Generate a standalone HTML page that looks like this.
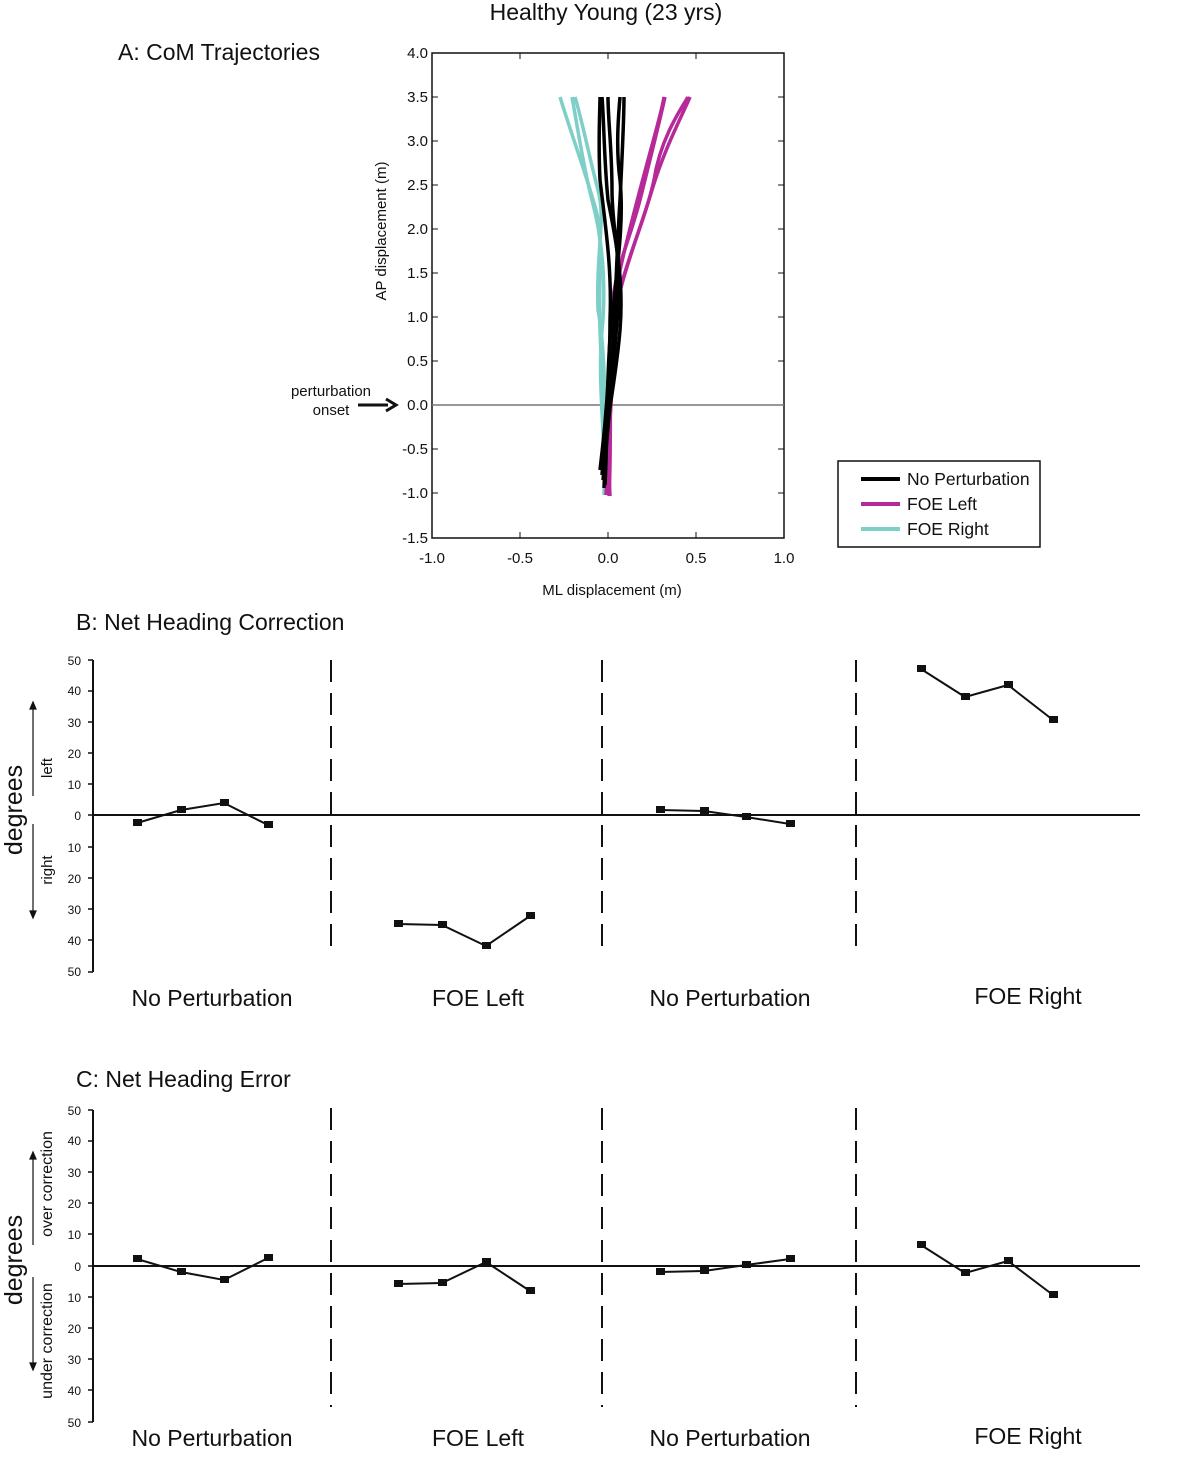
<!DOCTYPE html>
<html><head><style>body{margin:0;background:#fff}svg{display:block}text{font-family:"Liberation Sans",Arial,sans-serif;fill:#111}</style></head>
<body>
<svg width="1194" height="1466" viewBox="0 0 1194 1466" xmlns="http://www.w3.org/2000/svg">
<text x="606" y="20" font-size="23" text-anchor="middle">Healthy Young (23 yrs)</text>
<text x="118" y="60" font-size="23">A: CoM Trajectories</text>
<rect x="432" y="53" width="352" height="485" fill="none" stroke="#111" stroke-width="1.5"/>
<line x1="432" y1="405" x2="784" y2="405" stroke="#777" stroke-width="1.5"/>
<g stroke="#111" stroke-width="1">
<line x1="432" y1="53" x2="438" y2="53"/><line x1="432" y1="97" x2="438" y2="97"/><line x1="432" y1="141" x2="438" y2="141"/><line x1="432" y1="185" x2="438" y2="185"/><line x1="432" y1="229" x2="438" y2="229"/><line x1="432" y1="273" x2="438" y2="273"/><line x1="432" y1="317" x2="438" y2="317"/><line x1="432" y1="361" x2="438" y2="361"/><line x1="432" y1="449" x2="438" y2="449"/><line x1="432" y1="493" x2="438" y2="493"/>
<line x1="778" y1="97" x2="784" y2="97"/><line x1="778" y1="141" x2="784" y2="141"/><line x1="778" y1="185" x2="784" y2="185"/><line x1="778" y1="229" x2="784" y2="229"/><line x1="778" y1="273" x2="784" y2="273"/><line x1="778" y1="317" x2="784" y2="317"/><line x1="778" y1="361" x2="784" y2="361"/><line x1="778" y1="449" x2="784" y2="449"/><line x1="778" y1="493" x2="784" y2="493"/>
<line x1="520" y1="53" x2="520" y2="59"/><line x1="608" y1="53" x2="608" y2="59"/><line x1="696" y1="53" x2="696" y2="59"/>
<line x1="520" y1="532" x2="520" y2="538"/><line x1="608" y1="532" x2="608" y2="538"/><line x1="696" y1="532" x2="696" y2="538"/>
</g>
<g font-size="15" text-anchor="end">
<text x="428" y="58">4.0</text><text x="428" y="102">3.5</text><text x="428" y="146">3.0</text><text x="428" y="190">2.5</text><text x="428" y="234">2.0</text><text x="428" y="278">1.5</text><text x="428" y="322">1.0</text><text x="428" y="366">0.5</text><text x="428" y="410">0.0</text><text x="428" y="454">-0.5</text><text x="428" y="498">-1.0</text><text x="428" y="543">-1.5</text>
</g>
<g font-size="15" text-anchor="middle">
<text x="432" y="563">-1.0</text><text x="520" y="563">-0.5</text><text x="608" y="563">0.0</text><text x="696" y="563">0.5</text><text x="784" y="563">1.0</text>
</g>
<text x="612" y="595" font-size="15" text-anchor="middle">ML displacement (m)</text>
<text transform="translate(386,231) rotate(-90)" font-size="15" text-anchor="middle">AP displacement (m)</text>
<text x="331" y="396" font-size="15" text-anchor="middle">perturbation</text>
<text x="331" y="415" font-size="15" text-anchor="middle">onset</text>
<line x1="358" y1="405" x2="388" y2="405" stroke="#111" stroke-width="3"/>
<path d="M386 399 L396 405 L386 411" fill="none" stroke="#111" stroke-width="3"/>
<g fill="none" stroke="#7dcfc8" stroke-width="3.5">
<path d="M605 495 C604 440 602 380 600 330 C598 280 604 240 596 210 C588 180 570 130 560 97"/>
<path d="M604 495 C606 430 596 380 603 320 C606 270 600 230 592 200 C584 170 578 130 572 97"/>
<path d="M606 495 C604 420 607 360 598 310 C596 250 606 220 598 190 C590 160 582 120 575 97"/>
</g>
<g fill="none" stroke="#b52a98" stroke-width="3.5">
<path d="M608 495 C610 430 606 370 612 310 C614 270 630 240 640 200 C650 160 660 120 665 97"/>
<path d="M609 496 C612 440 608 380 614 320 C620 280 640 230 652 190 C664 150 680 120 690 97"/>
<path d="M606 495 C610 430 612 360 620 290 C630 250 645 220 654 180 C660 140 680 110 688 97"/>
<path d="M610 496 C606 420 614 360 618 280 C626 240 640 190 648 160 C656 130 662 110 664 97"/>
</g>
<g fill="none" stroke="#000" stroke-width="3.5">
<path d="M604 488 C606 430 612 380 614 330 C616 280 618 230 620 200 C622 160 624 120 624 97"/>
<path d="M600 470 C606 420 610 370 610 320 C612 270 606 230 600 180 C598 140 600 110 600 97"/>
<path d="M603 480 C608 430 614 360 618 310 C622 260 612 230 612 190 C612 150 608 120 608 97"/>
<path d="M605 485 C608 430 606 370 612 320 C618 260 624 220 620 180 C616 150 618 120 620 97"/>
<path d="M602 475 C606 420 616 380 620 330 C624 280 616 240 608 200 C604 160 604 120 602 97"/>
</g>
<rect x="838" y="461" width="202" height="86" fill="#fff" stroke="#111" stroke-width="1.5"/>
<line x1="861" y1="479" x2="900" y2="479" stroke="#000" stroke-width="4"/>
<line x1="861" y1="504" x2="900" y2="504" stroke="#b52a98" stroke-width="4"/>
<line x1="861" y1="529" x2="900" y2="529" stroke="#7dcfc8" stroke-width="4"/>
<g font-size="17.5"><text x="907" y="485">No Perturbation</text><text x="907" y="510">FOE Left</text><text x="907" y="535">FOE Right</text></g>

<text x="76" y="630" font-size="23">B: Net Heading Correction</text>
<g stroke="#111" stroke-width="2">
<line x1="93" y1="660" x2="93" y2="972"/>
<line x1="93" y1="815" x2="1140" y2="815"/>
</g>
<g stroke="#111" stroke-width="1.5">
<line x1="88" y1="660" x2="93" y2="660"/><line x1="88" y1="691" x2="93" y2="691"/><line x1="88" y1="722" x2="93" y2="722"/><line x1="88" y1="753" x2="93" y2="753"/><line x1="88" y1="784" x2="93" y2="784"/><line x1="88" y1="815" x2="93" y2="815"/><line x1="88" y1="847" x2="93" y2="847"/><line x1="88" y1="878" x2="93" y2="878"/><line x1="88" y1="909" x2="93" y2="909"/><line x1="88" y1="940" x2="93" y2="940"/><line x1="88" y1="972" x2="93" y2="972"/>
</g>
<g font-size="12" text-anchor="end">
<text x="81" y="665">50</text><text x="81" y="695">40</text><text x="81" y="727">30</text><text x="81" y="758">20</text><text x="81" y="789">10</text><text x="81" y="820">0</text><text x="81" y="852">10</text><text x="81" y="883">20</text><text x="81" y="914">30</text><text x="81" y="945">40</text><text x="81" y="976">50</text>
</g>
<g stroke="#111" stroke-width="2" stroke-dasharray="22,11">
<line x1="331" y1="660" x2="331" y2="957"/><line x1="602" y1="660" x2="602" y2="957"/><line x1="856" y1="660" x2="856" y2="957"/>
</g>
<text transform="translate(22,810) rotate(-90)" font-size="25" text-anchor="middle">degrees</text>
<text transform="translate(52,768) rotate(-90)" font-size="15" text-anchor="middle">left</text>
<text transform="translate(52,870) rotate(-90)" font-size="15" text-anchor="middle">right</text>
<g stroke="#111" stroke-width="1.2" fill="#111">
<line x1="33" y1="706" x2="33" y2="796"/><path d="M30 709 L33 702 L36 709Z"/>
<line x1="33" y1="824" x2="33" y2="914"/><path d="M30 911 L33 918 L36 911Z"/>
</g>
<g fill="none" stroke="#111" stroke-width="2">
<polyline points="137,823 181,810 224,803 268,825"/>
<polyline points="398,924 442,925 486,946 530,916"/>
<polyline points="660,810 704,811 746,817 790,824"/>
<polyline points="921,669 965,697 1008,685 1053,720"/>
</g>
<g fill="#111">
<rect x="133" y="819" width="9" height="7"/><rect x="177" y="806" width="9" height="7"/><rect x="220" y="799" width="9" height="7"/><rect x="264" y="821" width="9" height="7"/>
<rect x="394" y="920" width="9" height="7"/><rect x="438" y="921" width="9" height="7"/><rect x="482" y="942" width="9" height="7"/><rect x="526" y="912" width="9" height="7"/>
<rect x="656" y="806" width="9" height="7"/><rect x="700" y="807" width="9" height="7"/><rect x="742" y="813" width="9" height="7"/><rect x="786" y="820" width="9" height="7"/>
<rect x="917" y="665" width="9" height="7"/><rect x="961" y="693" width="9" height="7"/><rect x="1004" y="681" width="9" height="7"/><rect x="1049" y="716" width="9" height="7"/>
</g>
<g font-size="23" text-anchor="middle">
<text x="212" y="1006">No Perturbation</text><text x="478" y="1006">FOE Left</text><text x="730" y="1006">No Perturbation</text><text x="1028" y="1004">FOE Right</text>
</g>

<text x="76" y="1087" font-size="23">C: Net Heading Error</text>
<g stroke="#111" stroke-width="2">
<line x1="93" y1="1110" x2="93" y2="1422"/>
<line x1="93" y1="1266" x2="1140" y2="1266"/>
</g>
<g stroke="#111" stroke-width="1.5">
<line x1="88" y1="1110" x2="93" y2="1110"/><line x1="88" y1="1141" x2="93" y2="1141"/><line x1="88" y1="1172" x2="93" y2="1172"/><line x1="88" y1="1203" x2="93" y2="1203"/><line x1="88" y1="1234" x2="93" y2="1234"/><line x1="88" y1="1266" x2="93" y2="1266"/><line x1="88" y1="1297" x2="93" y2="1297"/><line x1="88" y1="1328" x2="93" y2="1328"/><line x1="88" y1="1359" x2="93" y2="1359"/><line x1="88" y1="1390" x2="93" y2="1390"/><line x1="88" y1="1422" x2="93" y2="1422"/>
</g>
<g font-size="12" text-anchor="end">
<text x="81" y="1115">50</text><text x="81" y="1145">40</text><text x="81" y="1177">30</text><text x="81" y="1208">20</text><text x="81" y="1239">10</text><text x="81" y="1271">0</text><text x="81" y="1302">10</text><text x="81" y="1333">20</text><text x="81" y="1364">30</text><text x="81" y="1395">40</text><text x="81" y="1427">50</text>
</g>
<g stroke="#111" stroke-width="2" stroke-dasharray="22,11">
<line x1="331" y1="1108" x2="331" y2="1407"/><line x1="602" y1="1108" x2="602" y2="1407"/><line x1="856" y1="1108" x2="856" y2="1407"/>
</g>
<text transform="translate(22,1260) rotate(-90)" font-size="25" text-anchor="middle">degrees</text>
<text transform="translate(52,1184) rotate(-90)" font-size="16" text-anchor="middle">over correction</text>
<text transform="translate(52,1341) rotate(-90)" font-size="16" text-anchor="middle">under correction</text>
<g stroke="#111" stroke-width="1.2" fill="#111">
<line x1="33" y1="1156" x2="33" y2="1245"/><path d="M30 1159 L33 1152 L36 1159Z"/>
<line x1="33" y1="1277" x2="33" y2="1366"/><path d="M30 1363 L33 1370 L36 1363Z"/>
</g>
<g fill="none" stroke="#111" stroke-width="2">
<polyline points="137,1259 181,1272 224,1280 268,1258"/>
<polyline points="398,1284 442,1283 486,1262 530,1291"/>
<polyline points="660,1272 704,1271 746,1265 790,1259"/>
<polyline points="921,1245 965,1273 1008,1261 1053,1295"/>
</g>
<g fill="#111">
<rect x="133" y="1255" width="9" height="7"/><rect x="177" y="1268" width="9" height="7"/><rect x="220" y="1276" width="9" height="7"/><rect x="264" y="1254" width="9" height="7"/>
<rect x="394" y="1280" width="9" height="7"/><rect x="438" y="1279" width="9" height="7"/><rect x="482" y="1258" width="9" height="7"/><rect x="526" y="1287" width="9" height="7"/>
<rect x="656" y="1268" width="9" height="7"/><rect x="700" y="1267" width="9" height="7"/><rect x="742" y="1261" width="9" height="7"/><rect x="786" y="1255" width="9" height="7"/>
<rect x="917" y="1241" width="9" height="7"/><rect x="961" y="1269" width="9" height="7"/><rect x="1004" y="1257" width="9" height="7"/><rect x="1049" y="1291" width="9" height="7"/>
</g>
<g font-size="23" text-anchor="middle">
<text x="212" y="1446">No Perturbation</text><text x="478" y="1446">FOE Left</text><text x="730" y="1446">No Perturbation</text><text x="1028" y="1444">FOE Right</text>
</g>
</svg>
</body></html>
